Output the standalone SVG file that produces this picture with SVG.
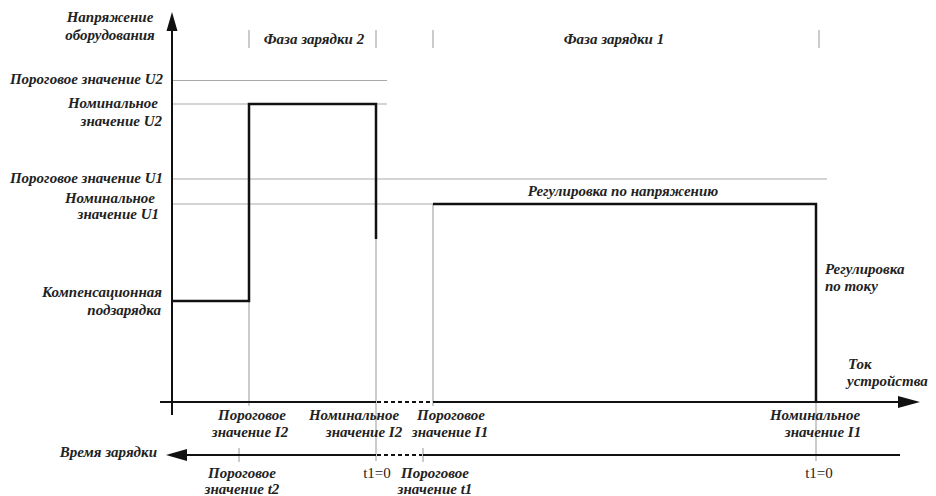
<svg xmlns="http://www.w3.org/2000/svg" width="936" height="496" viewBox="0 0 936 496">
<style>
.t{font-family:"Liberation Serif","Times New Roman",serif;font-style:italic;font-weight:bold;font-size:15px;fill:#222}
.r{font-family:"Liberation Serif","Times New Roman",serif;font-size:15px;fill:#222}
.g{stroke:#aaa;stroke-width:1.2;fill:none}
.k{stroke:#111;stroke-width:2.5;fill:none}
.ax{stroke:#111;stroke-width:2;fill:none}
.d{stroke:#111;stroke-width:2;stroke-dasharray:4 3;fill:none}
</style>
<rect width="936" height="496" fill="#fff"/>
<g id="grid">
<line class="g" x1="172" y1="80.5" x2="387" y2="80.5"/>
<line class="g" x1="172" y1="104" x2="387" y2="104"/>
<line class="g" x1="172" y1="179" x2="827" y2="179"/>
<line class="g" x1="172" y1="204" x2="433" y2="204"/>
<line class="g" x1="249" y1="301" x2="249" y2="406"/>
<line class="g" x1="376" y1="239" x2="376" y2="461"/>
<line class="g" x1="433" y1="204" x2="433" y2="406"/>
<line class="g" x1="816" y1="402" x2="816" y2="461"/>
<line class="g" x1="249" y1="30" x2="249" y2="48"/>
<line class="g" x1="376" y1="30" x2="376" y2="48"/>
<line class="g" x1="433" y1="30" x2="433" y2="48"/>
<line class="g" x1="819" y1="30" x2="819" y2="48"/>
<line class="g" x1="239" y1="448" x2="239" y2="462"/>
<line class="g" x1="423" y1="448" x2="423" y2="462"/>
</g>
<g id="connectors">
<line class="ax" x1="172" y1="415" x2="172" y2="31"/>
<path d="M166.5,31 L172,12 L177.5,31 z" fill="#111"/>
<line class="ax" x1="160" y1="402" x2="376" y2="402"/>
<line class="d" x1="377" y1="402" x2="432" y2="402"/>
<line class="ax" x1="433" y1="402" x2="898" y2="402"/>
<path d="M898,396 L920,402 L898,408 z" fill="#111"/>
<line class="ax" x1="187" y1="455" x2="376" y2="455"/>
<line class="d" x1="377" y1="455" x2="422" y2="455"/>
<line class="ax" x1="423" y1="455" x2="900" y2="455"/>
<path d="M187,449 L166,455 L187,461 z" fill="#111"/>
</g>
<g id="curve-phase2">
<path class="k" d="M172,301 H249 V104 H376 V239"/>
</g>
<g id="curve-phase1">
<path class="k" d="M433,204 H816 V402"/>
</g>
<g id="labels">
<text class="t" x="110" y="22" text-anchor="middle">Напряжение</text>
<text class="t" x="110" y="40" text-anchor="middle">оборудования</text>
<text class="t" x="314" y="44" text-anchor="middle">Фаза зарядки 2</text>
<text class="t" x="614" y="44" text-anchor="middle">Фаза зарядки 1</text>
<text class="t" x="163" y="84" text-anchor="end">Пороговое значение U2</text>
<text class="t" x="158" y="108" text-anchor="end">Номинальное</text>
<text class="t" x="162" y="126" text-anchor="end">значение U2</text>
<text class="t" x="163" y="183" text-anchor="end">Пороговое значение U1</text>
<text class="t" x="155" y="203" text-anchor="end">Номинальное</text>
<text class="t" x="159" y="219" text-anchor="end">значение U1</text>
<text class="t" x="623" y="196" text-anchor="middle">Регулировка по напряжению</text>
<text class="t" x="162" y="297" text-anchor="end">Компенсационная</text>
<text class="t" x="161" y="315" text-anchor="end">подзарядка</text>
<text class="t" x="825" y="274">Регулировка</text>
<text class="t" x="825" y="291">по току</text>
<text class="t" x="848" y="369">Ток</text>
<text class="t" x="847" y="386">устройства</text>
<text class="t" x="252" y="420" text-anchor="middle">Пороговое</text>
<text class="t" x="250" y="437" text-anchor="middle">значение I2</text>
<text class="t" x="354" y="420" text-anchor="middle">Номинальное</text>
<text class="t" x="364" y="437" text-anchor="middle">значение I2</text>
<text class="t" x="451" y="420" text-anchor="middle">Пороговое</text>
<text class="t" x="450" y="437" text-anchor="middle">значение I1</text>
<text class="t" x="815" y="420" text-anchor="middle">Номинальное</text>
<text class="t" x="823" y="437" text-anchor="middle">значение I1</text>
<text class="t" x="157" y="457" text-anchor="end">Время зарядки</text>
<text class="t" x="242" y="478" text-anchor="middle">Пороговое</text>
<text class="t" x="242" y="494" text-anchor="middle">значение t2</text>
<text class="r" x="377" y="478" text-anchor="middle">t1=0</text>
<text class="t" x="435" y="478" text-anchor="middle">Пороговое</text>
<text class="t" x="435" y="494" text-anchor="middle">значение t1</text>
<text class="r" x="819" y="478" text-anchor="middle">t1=0</text>
</g>
</svg>
